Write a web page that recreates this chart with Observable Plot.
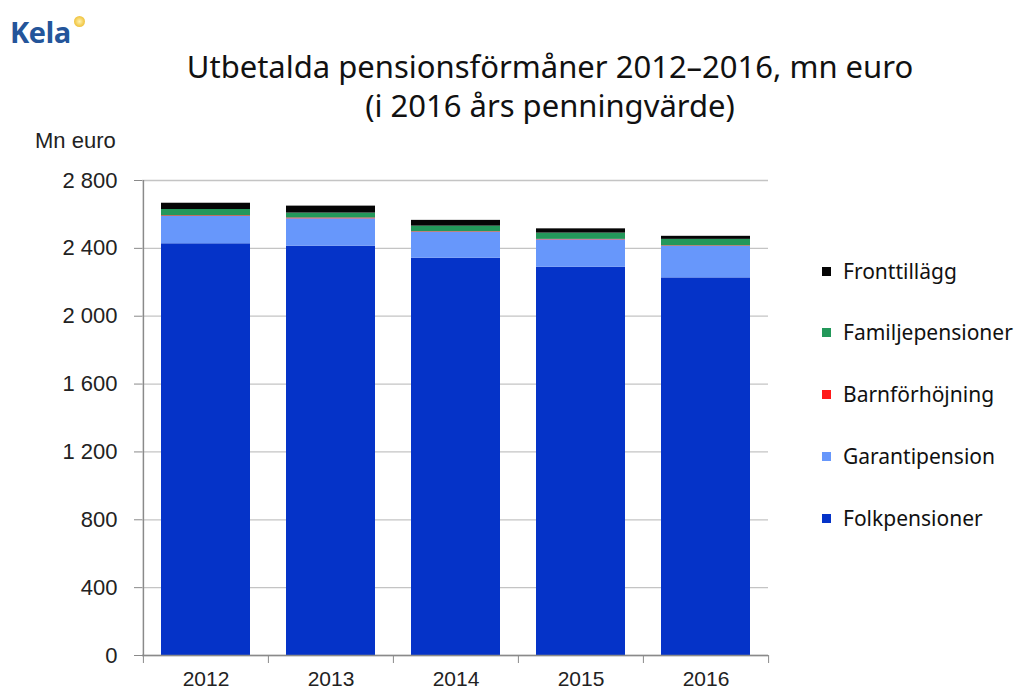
<!DOCTYPE html>
<html>
<head>
<meta charset="utf-8">
<script src="https://cdn.jsdelivr.net/npm/d3@7"></script>
<script src="https://cdn.jsdelivr.net/npm/@observablehq/plot@0.6"></script>
<style>
  html, body { margin: 0; padding: 0; background: #fff; }
  #wrap { position: relative; width: 1021px; height: 692px; overflow: hidden; }
  #chart { position: absolute; left: 0; top: 0; }
  .title { position: absolute; left: 0; width: 1100px; text-align: center; font-family: "Noto Sans", sans-serif; font-size: 31px; color: #111; white-space: nowrap; }
  #logo { position: absolute; left: 10px; top: 12px; font-family: "Open Sans", sans-serif; font-weight: 700; font-size: 29px; color: #24559a; letter-spacing: -0.5px; }
  #logo .dot { position: absolute; left: 64px; top: 4px; width: 11px; height: 11px; border-radius: 50%; background: radial-gradient(circle, #fff3b0 0%, #f2c94c 60%, #e8b830 100%); }
  #ylabel { position: absolute; left: 35px; top: 128px; font-family: "Liberation Sans", Arial, sans-serif; font-size: 22px; color: #222; }
  #legend { position: absolute; left: 822px; top: 0; font-family: "Noto Sans", sans-serif; font-size: 21px; color: #111; }
  .li { position: absolute; left: 0; white-space: nowrap; display: flex; align-items: center; }
  .sw { width: 9px; height: 9px; margin-right: 12px; display: inline-block; }
</style>
</head>
<body>
<div id="wrap">
  <div id="chart"></div>
  <div id="logo">Kela<span class="dot"></span></div>
  <div class="title" id="t1" style="top:45px;"></div>
  <div class="title" id="t2" style="top:84px;"></div>
  <div id="ylabel"></div>
  <div id="legend"></div>
</div>
<script>
// ---- data ----
const years = ["2012", "2013", "2014", "2015", "2016"];
const series = ["Folkpensioner", "Garantipension", "Barnförhöjning", "Familjepensioner", "Fronttillägg"];
const colors = ["#0533c8", "#6797fb", "#ff1a1a", "#23985a", "#050505"];
const folkpensioner    = [2427, 2413, 2342, 2289, 2226];
const garantipension   = [161, 161, 153, 161, 186];
const barnforhojning   = [4, 5, 3, 3, 3];
const familjepensioner = [37, 29, 33, 37, 38];
const fronttillagg     = [37, 41, 34, 25, 18];
const yTicks = [0, 400, 800, 1200, 1600, 2000, 2400, 2800];
const titleLines = ["Utbetalda pensionsförmåner 2012–2016, mn euro", "(i 2016 års penningvärde)"];
const yLabel = "Mn euro";
const legendOrder = ["Fronttillägg", "Familjepensioner", "Barnförhöjning", "Garantipension", "Folkpensioner"];

// ---- table ----
const valuesBySeries = [folkpensioner, garantipension, barnforhojning, familjepensioner, fronttillagg];
const data = [];
years.forEach((yr, i) => series.forEach((s, j) => data.push({year: yr, series: s, value: valuesBySeries[j][i]})));

const W = 1021, H = 692, mL = 142, mR = 253, mT = 180, mB = 37;
const step = (W - mL - mR) / years.length;
const fmt = d3.formatLocale({thousands: "\u00a0", grouping: [3], decimal: ","}).format(",");

const chart = Plot.plot({
  width: W, height: H,
  marginLeft: mL, marginRight: mR, marginTop: mT, marginBottom: mB,
  style: {fontFamily: "'Liberation Sans', Arial, sans-serif", fontSize: "22px", color: "#222", background: "transparent"},
  x: {domain: years, paddingInner: 0.29, paddingOuter: 0.145, label: null},
  y: {domain: [0, 2800], label: null},
  color: {domain: series, range: colors},
  marks: [
    Plot.gridY(yTicks, {stroke: "#c4c4c4", strokeOpacity: 1, strokeWidth: 1.3}),
    Plot.barY(data, {x: "year", y: "value", fill: "series", order: series}),
    Plot.ruleY([0], {stroke: "#8a8a8a", strokeWidth: 1.5}),
    Plot.ruleX([years[0]], {dx: -step / 2, y1: 0, y2: 2800, stroke: "#8a8a8a", strokeWidth: 1.5}),
    Plot.axisY(yTicks, {tickSize: 8, tickPadding: 17, tickFormat: fmt, stroke: "#8a8a8a", fontSize: 22, fill: "#222"}),
    Plot.axisX(years, {tickSize: 8, tickFormat: () => "", dx: -step / 2, stroke: "#8a8a8a"}),
    Plot.axisX([years[years.length - 1]], {tickSize: 8, tickFormat: () => "", dx: step / 2, stroke: "#8a8a8a"}),
    Plot.axisX(years, {tickSize: 0, tickPadding: 16, fontSize: 21, fill: "#222"})
  ]
});
document.getElementById("chart").appendChild(chart);

// ---- text ----
const t1 = document.getElementById("t1"), t2 = document.getElementById("t2");
t1.textContent = titleLines[0]; t2.textContent = titleLines[1];
document.getElementById("ylabel").textContent = yLabel;

const legend = document.getElementById("legend");
const rowTops = [257, 318, 380, 442, 504];
legendOrder.forEach((name, i) => {
  const row = document.createElement("div");
  row.className = "li";
  row.style.top = rowTops[i] + "px";
  const sw = document.createElement("span");
  sw.className = "sw";
  sw.style.background = colors[series.indexOf(name)];
  const tx = document.createElement("span");
  tx.textContent = name;
  row.appendChild(sw); row.appendChild(tx);
  legend.appendChild(row);
});
</script>
</body>
</html>
